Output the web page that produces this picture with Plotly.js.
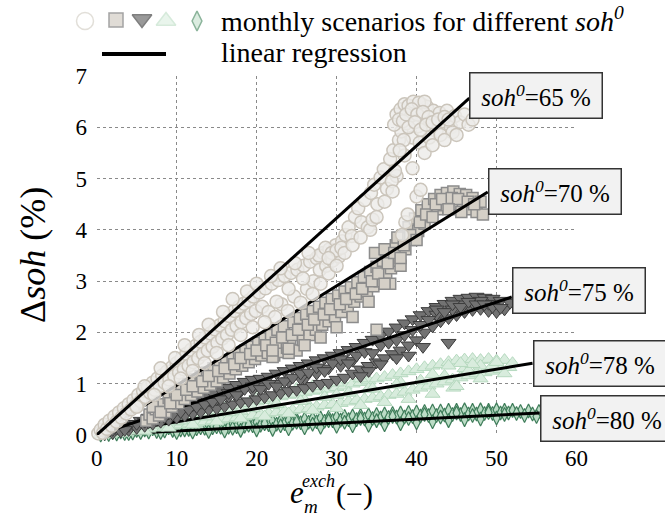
<!DOCTYPE html>
<html>
<head>
<meta charset="utf-8">
<script src="https://cdn.plot.ly/plotly-3.0.1.min.js"></script>
<style>html,body{margin:0;padding:0;background:#fff;}#chart{width:665px;height:517px;}
svg text, svg tspan{font-family:'Liberation Serif','Times New Roman',serif !important;}
</style>
</head>
<body>
<div id="chart"></div>
<script>
// ---- data ----
const soh65_x = [0.2,0.5,0.8,1.0,1.3,1.6,1.9,2.2,2.5,2.8,3.1,3.4,3.7,4.0,4.3,4.6,4.9,5.2,5.5,5.8,6.1,6.4,6.7,7.0,7.3,7.6,7.9,8.2,8.5,8.8,9.1,9.4,9.7,10.0,10.3,10.6,10.9,11.2,11.5,11.8,12.1,12.4,12.7,13.0,13.3,13.6,13.9,14.2,14.5,14.8,15.1,15.4,15.7,16.0,16.3,16.6,16.9,17.2,17.5,17.8,18.1,18.4,18.7,19.0,19.3,19.6,19.9,20.3,20.7,21.1,21.5,21.9,22.3,22.7,23.1,23.5,23.9,24.3,24.7,25.1,25.5,25.9,26.3,26.7,27.1,27.5,27.9,28.3,28.7,29.1,29.5,29.9,30.3,30.7,31.1,31.5,31.9,32.3,32.7,33.1,33.5,33.9,34.3,34.7,35.1,35.5,35.9,36.3,36.7,37.1,37.5,37.8,38.1,38.5,38.8,39.2,39.5,39.9,40.2,40.6,40.9,41.3,41.7,42.1,42.5,42.9,43.3,43.8,44.3,44.8,45.4,46.0,34.2,34.5,38.2,38.6,38.9,40.0,40.5,36.9,37.3,40.4,41.6,43.0,44.5,37.5,38.0,38.5,39.0,39.6,40.3,41.0,37.2,37.8,38.3,27.8,28.6,29.4,30.0,30.6,29.0,
  5.0,6.0,7.2,8.0,9.0,9.8,10.5,11.0,12.0,12.8,13.5,14.0,15.0,15.8,16.5,17.0,18.0,18.8,19.5,20.0,21.0,21.8,22.5,23.0,24.0,24.8,25.8,26.5,27.0,28.0,29.0,30.0,31.0,32.0,33.0,35.0,36.0,37.0,39.5,41.0,42.0,43.5,45.0,46.5,47.0,
  38.7,39.4,40.1,40.8,41.5,39.0,39.8,40.5,41.2,42.0,42.7,43.5,44.0,38.4,37.9];
const soh65_y = [0.03,0.10,0.04,0.20,0.12,0.28,0.18,0.36,0.26,0.44,0.34,0.52,0.42,0.60,0.50,0.68,0.58,0.78,0.66,0.86,0.74,0.94,0.82,1.02,0.88,1.10,0.95,1.16,1.02,1.24,1.08,1.32,1.15,1.40,1.22,1.48,1.28,1.58,1.35,1.66,1.42,1.74,1.50,1.82,1.58,1.90,1.65,1.98,1.72,2.06,1.80,2.14,1.88,2.22,1.95,2.32,2.05,2.42,2.12,2.50,2.20,2.56,2.28,2.62,2.36,2.70,2.42,2.78,2.50,2.86,2.40,2.95,2.30,3.02,2.55,3.10,2.42,3.16,2.70,3.22,2.58,3.30,2.85,3.38,3.00,3.45,3.22,3.55,3.30,3.62,3.40,3.70,3.48,3.78,3.90,4.05,3.88,4.25,4.42,4.15,4.58,4.05,4.72,4.88,4.50,5.02,5.18,4.80,5.38,5.55,5.05,5.75,5.92,5.45,6.08,6.22,5.80,6.35,6.02,6.45,6.18,6.40,6.05,6.32,5.92,6.28,6.12,6.32,6.00,6.22,6.10,6.25,4.00,4.20,3.90,4.15,4.30,4.65,4.78,4.95,5.15,5.70,5.80,5.85,5.90,6.25,6.35,6.45,6.42,6.50,6.48,6.50,6.05,6.15,6.12,3.50,3.65,3.55,3.60,3.65,3.45,
  0.55,0.95,0.78,1.30,0.95,1.50,1.10,1.75,1.25,1.95,1.40,2.15,1.60,2.40,1.75,2.65,1.95,2.80,2.10,2.95,2.20,3.10,2.60,3.25,2.85,3.35,3.05,3.55,2.75,2.95,3.15,3.30,3.55,3.70,3.85,4.25,4.55,4.75,5.20,5.50,5.65,5.75,5.85,6.05,6.15,
  6.25,6.35,6.25,6.30,6.20,6.00,6.10,5.95,6.05,6.10,6.15,6.20,6.15,5.75,5.55];

const soh70_x = [6.2,6.6,7.0,7.4,7.8,8.2,8.6,9.0,9.4,9.8,10.2,10.6,11.0,11.4,11.8,12.2,12.6,13.0,13.4,13.8,14.2,14.6,15.0,15.4,15.8,16.2,16.6,17.0,17.4,17.8,18.2,18.6,19.0,19.4,19.8,20.2,20.6,21.0,21.4,21.8,22.2,22.6,23.0,23.4,23.8,24.2,24.6,25.0,25.4,25.8,26.2,26.6,27.0,27.4,27.8,28.2,28.6,29.0,29.4,29.8,30.2,30.6,31.0,31.4,31.8,32.2,32.6,33.0,33.4,33.8,34.2,34.6,35.0,35.4,35.8,36.2,36.6,37.0,37.4,37.8,38.2,38.6,39.0,39.4,39.8,40.2,40.6,41.0,41.4,41.8,42.2,42.6,43.0,43.4,43.8,44.2,44.6,45.0,45.4,45.8,46.2,46.6,47.0,47.5,48.0,48.3,35.0,36.7,22.0,24.0,34.8,36.0,37.6,36.8,37.2,38.0,
  7.0,8.0,9.2,10.0,11.2,12.0,13.2,14.0,15.2,16.0,17.2,18.0,19.2,20.0,21.2,22.4,23.2,24.4,25.2,26.4,27.2,28.4,29.2,30.4,31.2,32.4,33.2,34.4,35.2,36.4,37.2,38.4,39.2,40.4,41.2,42.4,43.2,44.4,45.2,46.4,47.2,44.0,45.6,42.0,40.0,38.0,36.0,34.0,32.0,30.0,28.0,26.0,24.0,22.0];
const soh70_y = [0.28,0.40,0.32,0.50,0.38,0.60,0.45,0.72,0.55,0.85,0.62,0.92,0.70,1.00,0.78,1.08,0.85,1.15,0.92,1.22,0.98,1.30,1.05,1.36,1.12,1.42,1.20,1.50,1.28,1.58,1.35,1.65,1.42,1.72,1.48,1.80,1.55,1.88,1.60,1.95,1.55,2.05,1.62,2.12,1.70,1.78,2.20,1.65,2.28,1.85,2.35,1.95,2.42,2.05,2.50,2.15,2.58,2.22,2.65,2.30,2.72,2.40,2.80,2.50,2.88,2.60,2.98,2.70,3.08,2.80,3.18,2.90,3.28,3.00,3.40,3.15,3.55,3.30,3.70,3.50,3.88,3.62,4.05,3.80,4.22,3.98,4.38,4.12,4.50,4.28,4.60,4.40,4.68,4.48,4.72,4.52,4.75,4.50,4.70,4.45,4.68,4.40,4.62,4.35,4.55,4.30,2.05,2.95,1.52,1.60,3.55,3.62,3.85,3.25,3.40,3.30,
  0.55,0.45,0.62,0.78,0.88,0.95,1.05,1.15,1.25,1.30,1.38,1.50,1.58,1.65,1.75,1.80,1.90,1.95,2.05,2.15,2.25,2.35,2.45,2.55,2.65,2.75,2.85,3.00,3.15,3.35,3.55,3.70,3.90,4.15,4.30,4.50,4.60,4.62,4.60,4.55,4.50,4.40,4.35,4.25,3.80,3.45,2.95,2.60,2.30,2.10,1.90,1.75,1.68,1.65];

const soh75_x = [1.0,1.5,2.0,2.5,3.0,3.5,4.0,4.5,5.0,5.5,6.0,6.5,7.0,7.5,8.0,8.5,9.0,9.5,10.0,10.5,11.0,11.5,12.0,12.5,13.0,13.5,14.0,14.5,15.0,15.5,16.0,16.5,17.0,17.5,18.0,18.5,19.0,19.5,20.0,20.5,21.0,21.5,22.0,22.5,23.0,23.5,24.0,24.5,25.0,25.5,26.0,26.5,27.0,27.5,28.0,28.5,29.0,29.5,30.0,30.5,31.0,31.5,32.0,32.5,33.0,33.5,34.0,34.5,35.0,35.5,36.0,36.5,37.0,37.5,38.0,38.5,39.0,39.5,40.0,40.5,41.0,41.5,42.0,42.5,43.0,43.5,44.0,44.5,45.0,45.5,46.0,46.5,47.0,47.5,48.0,48.5,49.0,49.5,50.0,50.5,51.0,51.7,37.5,39.0,40.8,44.0,35.5,34.0,33.0,26.0,24.0,21.0,18.0,15.0,12.0,9.0,6.0,4.0,43.0,45.0,47.0,49.0,46.0,48.0,44.5,42.5,29.0,30.5,32.0,27.5,25.5,22.5,19.5,16.5,
  2.0,3.5,5.0,6.5,7.5,8.5,9.5,10.5,11.5,12.5,13.5,14.5,15.5,16.5,17.5,18.5,19.5,20.5,21.5,22.5,23.5,24.5,25.5,26.5,27.5,28.5,29.5,30.5,31.5,32.5,33.5,34.5,35.5,36.5,37.5,38.5,39.5,40.5,41.5,42.5,43.5,44.5,45.5,46.5,47.5,48.5,49.5,50.5];
const soh75_y = [0.02,0.08,0.04,0.12,0.07,0.16,0.10,0.22,0.14,0.28,0.18,0.34,0.22,0.40,0.26,0.46,0.30,0.52,0.34,0.58,0.38,0.64,0.42,0.70,0.45,0.76,0.50,0.82,0.52,0.88,0.56,0.92,0.60,0.98,0.64,1.04,0.66,1.08,0.70,1.10,0.74,1.14,0.78,1.20,0.82,1.25,0.86,1.30,0.88,1.35,0.92,1.40,0.96,1.46,1.00,1.50,1.02,1.55,1.08,1.60,1.12,1.66,1.20,1.72,1.28,1.80,1.35,1.86,1.42,1.94,1.50,2.02,1.58,2.10,1.65,2.18,1.75,2.26,1.85,2.34,2.00,2.42,2.12,2.50,2.22,2.56,2.28,2.62,2.34,2.66,2.40,2.68,2.44,2.70,2.46,2.68,2.42,2.66,2.40,2.62,2.45,2.58,1.50,1.55,1.72,1.80,1.38,1.25,1.15,1.10,1.05,0.95,0.85,0.70,0.58,0.42,0.26,0.18,2.40,2.50,2.58,2.56,2.55,2.62,2.45,2.35,1.30,1.35,1.45,1.20,1.10,1.00,0.88,0.75,
  0.10,0.10,0.22,0.25,0.30,0.35,0.40,0.45,0.50,0.55,0.60,0.65,0.70,0.82,0.78,0.90,0.95,0.90,1.00,0.95,1.05,1.12,1.20,1.22,1.32,1.25,1.40,1.48,1.40,1.55,1.62,1.60,1.75,1.80,1.85,1.95,2.05,2.15,2.25,2.45,2.40,2.55,2.50,2.60,2.55,2.55,2.50,2.48];

const soh78_x = [0.5,1.0,1.5,2.0,2.5,3.0,3.5,4.0,4.5,5.0,5.5,6.0,6.5,7.0,7.5,8.0,8.5,9.0,9.5,10.0,10.5,11.0,11.5,12.0,12.5,13.0,13.5,14.0,14.5,15.0,15.5,16.0,16.5,17.0,17.5,18.0,18.5,19.0,19.5,20.0,20.5,21.0,21.5,22.0,22.5,23.0,23.5,24.0,24.5,25.0,25.5,26.0,26.5,27.0,27.5,28.0,28.5,29.0,29.5,30.0,30.5,31.0,31.5,32.0,32.5,33.0,33.5,34.0,34.5,35.0,35.5,36.0,36.5,37.0,37.5,38.0,38.5,39.0,39.5,40.0,40.5,41.0,41.5,42.0,42.5,43.0,43.5,44.0,44.5,45.0,45.5,46.0,46.5,47.0,47.5,48.0,48.5,49.0,49.5,50.0,50.5,51.0,51.6,44.6,48.0,46.0,42.0,38.0,34.0,30.0,26.0,22.0,18.0,14.0,10.0,
  1.5,3.0,4.5,6.0,7.5,9.0,10.5,12.0,13.5,15.0,16.5,18.0,19.5,21.0,22.5,24.0,25.5,27.0,28.5,30.0,31.5,33.0,34.5,36.0,37.5,39.0,40.5,42.0,43.5,45.0,46.5,48.0,49.5,51.0,47.0,45.5,44.0,50.0,52.0,23.0,25.0,20.0,27.0,30.0,33.0];
const soh78_y = [0.01,0.04,0.02,0.07,0.04,0.10,0.06,0.13,0.08,0.16,0.10,0.19,0.12,0.22,0.14,0.25,0.16,0.28,0.18,0.32,0.20,0.35,0.22,0.38,0.24,0.42,0.26,0.45,0.28,0.48,0.30,0.52,0.32,0.55,0.34,0.58,0.36,0.62,0.38,0.65,0.40,0.68,0.42,0.72,0.44,0.75,0.46,0.78,0.48,0.80,0.50,0.83,0.52,0.86,0.55,0.88,0.58,0.90,0.60,0.93,0.62,0.96,0.65,1.00,0.68,1.03,0.70,1.06,0.72,1.10,0.75,1.13,0.78,1.17,0.80,1.20,0.84,1.24,0.88,1.28,0.92,1.32,0.96,1.35,1.00,1.38,1.04,1.42,1.08,1.45,1.12,1.47,1.16,1.48,1.20,1.46,1.22,1.48,1.25,1.45,1.28,1.46,1.32,0.92,1.35,1.30,1.18,1.02,0.90,0.78,0.68,0.58,0.47,0.36,0.26,
  0.08,0.04,0.12,0.08,0.20,0.14,0.28,0.20,0.36,0.26,0.44,0.32,0.52,0.36,0.60,0.42,0.66,0.48,0.74,0.52,0.82,0.58,0.90,0.64,0.98,0.70,1.06,0.80,1.15,0.95,1.25,1.10,1.35,1.20,1.38,1.40,1.35,1.42,1.40,0.85,0.90,0.78,0.95,1.02,1.10];

const soh80_x = [0.5,1.0,1.5,2.0,2.5,3.0,3.5,4.0,4.5,5.0,5.5,6.0,6.5,7.0,7.5,8.0,8.5,9.0,9.5,10.0,10.5,11.0,11.5,12.0,12.5,13.0,13.5,14.0,14.5,15.0,15.5,16.0,16.5,17.0,17.5,18.0,18.5,19.0,19.5,20.0,20.5,21.0,21.5,22.0,22.5,23.0,23.5,24.0,24.5,25.0,25.5,26.0,26.5,27.0,27.5,28.0,28.5,29.0,29.5,30.0,30.5,31.0,31.5,32.0,32.5,33.0,33.5,34.0,34.5,35.0,35.5,36.0,36.5,37.0,37.5,38.0,38.5,39.0,39.5,40.0,40.5,41.0,41.5,42.0,42.5,43.0,43.5,44.0,44.5,45.0,45.5,46.0,46.5,47.0,47.5,48.0,48.5,49.0,49.5,50.0,50.5,51.0,51.5,52.0,53.0,54.0,55.3,10,14,18,22,26,30,34,38,42,46,50,12,16,20,24,28,32,36,40,44,48,
  2,4,6,8,11,13,15,17,19,21,23,25,27,29,31,33,35,37,39,41,43,45,47,49,51,52.5,53.5,54.5,55];
const soh80_y = [0.00,0.03,0.01,0.05,0.02,0.06,0.03,0.08,0.04,0.09,0.05,0.10,0.06,0.12,0.07,0.13,0.08,0.14,0.09,0.15,0.10,0.16,0.11,0.17,0.12,0.18,0.13,0.19,0.14,0.20,0.15,0.21,0.15,0.22,0.16,0.23,0.17,0.24,0.18,0.25,0.19,0.26,0.20,0.27,0.21,0.28,0.22,0.29,0.23,0.30,0.24,0.31,0.25,0.32,0.26,0.33,0.27,0.34,0.28,0.35,0.29,0.36,0.30,0.37,0.30,0.38,0.31,0.39,0.32,0.40,0.33,0.41,0.34,0.42,0.35,0.43,0.35,0.44,0.36,0.45,0.37,0.46,0.38,0.47,0.38,0.47,0.39,0.48,0.40,0.48,0.40,0.49,0.41,0.48,0.41,0.49,0.42,0.48,0.42,0.49,0.43,0.48,0.43,0.48,0.46,0.47,0.46,0.05,0.07,0.09,0.11,0.14,0.17,0.19,0.22,0.26,0.30,0.33,0.06,0.08,0.10,0.12,0.15,0.18,0.20,0.24,0.28,0.31,
  0.08,0.03,0.12,0.05,0.10,0.14,0.16,0.13,0.19,0.22,0.18,0.25,0.21,0.28,0.25,0.32,0.28,0.36,0.32,0.40,0.35,0.43,0.38,0.44,0.40,0.42,0.38,0.41,0.36];

// linear regression end points (start at origin)
const regNames = ['65','70','75','78','80'];
const regEndX = [46.6, 48.9, 51.9, 54.5, 55.4];
const regEndY = [6.57, 4.74, 2.69, 1.40, 0.43];
const labelShift = [3, 0, 7, 0, -6];

// ---- styling ----
const W = 665, H = 517;
const px = v => v / W, py = v => 1 - v / H;
const SERIF = 'Liberation Serif';

const styles = {
  '65': {symbol:'circle', size:13, color:'rgba(236,235,232,0.8)', line:{color:'#cbc5bb', width:1.5}},
  '70': {symbol:'square', size:11, color:'#d5d0c7', line:{color:'#8c8c8c', width:1.5}},
  '75': {symbol:'triangle-down', size:13, color:'#727272', line:{color:'#3c3c3c', width:1}},
  '78': {symbol:'triangle-up', size:13, color:'#d8ecdd', line:{color:'#b6d9bf', width:1}},
  '80': {symbol:'diamond-tall', size:10, color:'#bcdcc6', line:{color:'#3f7d5a', width:1.2}}
};
const seriesData = {
  '65': [soh65_x, soh65_y], '70': [soh70_x, soh70_y], '75': [soh75_x, soh75_y],
  '78': [soh78_x, soh78_y], '80': [soh80_x, soh80_y]
};

const traces = [];
['80','78','75','70','65'].forEach(k => {
  const i = regNames.indexOf(k);
  traces.push({type:'scatter', mode:'markers', x:seriesData[k][0], y:seriesData[k][1],
    marker:styles[k], cliponaxis:false, showlegend:false, hoverinfo:'skip'});
  traces.push({type:'scatter', mode:'lines', x:[0, regEndX[i]], y:[0, regEndY[i]],
    line:{color:'#000', width:3}, cliponaxis:false, showlegend:false, hoverinfo:'skip'});
});

// legend glyphs (on a hidden helper axis in pixel units)
traces.push({type:'scatter', mode:'markers', xaxis:'x2', yaxis:'y2',
  x:[85,116,142,166,197], y:[21,20,19,21,21],
  marker:{symbol:['circle','square','triangle-down','triangle-up','diamond-tall'],
    size:[17,14,17,17,14],
    color:['#ffffff','#d3cec6','#6e6e6e','#e1f1e5','#cde5d4'],
    line:{color:['#d6d2c9','#7d7d7d','#4a4a4a','#c5e2cc','#5b9571'], width:1.5}},
  cliponaxis:false, showlegend:false, hoverinfo:'skip'});
traces.push({type:'scatter', mode:'lines', xaxis:'x2', yaxis:'y2',
  x:[102,166], y:[54,54], line:{color:'#000', width:4}, cliponaxis:false, showlegend:false, hoverinfo:'skip'});

const annotations = [];
regNames.forEach((k, i) => {
  annotations.push({xref:'x', yref:'y', x:regEndX[i], y:regEndY[i], xanchor:'left', yanchor:'middle',
    yshift:labelShift[i], showarrow:false,
    text:'<i>soh</i><sup><i>0</i></sup>=' + k + ' %',
    font:{family:SERIF, size:25, color:'#000'},
    bgcolor:'#f2f2f2', bordercolor:'#333', borderwidth:1.5, borderpad:8, width:115, height:28});
});
annotations.push({xref:'paper', yref:'paper', x:px(33), y:py(255), xanchor:'center', yanchor:'middle',
  textangle:-90, showarrow:false, text:'Δ<i>soh</i> (%)', font:{family:SERIF, size:36, color:'#000'}});
annotations.push({xref:'paper', yref:'paper', x:px(297), y:py(492), xanchor:'center', yanchor:'middle',
  showarrow:false, text:'<i>e</i>', font:{family:SERIF, size:31, color:'#000'}});
annotations.push({xref:'paper', yref:'paper', x:px(318), y:py(481), xanchor:'center', yanchor:'middle',
  showarrow:false, text:'<i>exch</i>', font:{family:SERIF, size:18, color:'#000'}});
annotations.push({xref:'paper', yref:'paper', x:px(311), y:py(506), xanchor:'center', yanchor:'middle',
  showarrow:false, text:'<i>m</i>', font:{family:SERIF, size:19, color:'#000'}});
annotations.push({xref:'paper', yref:'paper', x:px(354), y:py(494), xanchor:'center', yanchor:'middle',
  showarrow:false, text:'(−)', font:{family:SERIF, size:30, color:'#000'}});
annotations.push({xref:'paper', yref:'paper', x:px(219), y:py(20), xanchor:'left', yanchor:'middle',
  showarrow:false, text:'monthly scenarios for different <i>soh</i><sup><i>0</i></sup>', font:{family:SERIF, size:28, color:'#000'}});
annotations.push({xref:'paper', yref:'paper', x:px(219), y:py(53), xanchor:'left', yanchor:'middle',
  showarrow:false, text:'linear regression', font:{family:SERIF, size:28, color:'#000'}});

const layout = {
  width:W, height:H, margin:{l:0, r:0, t:0, b:0}, showlegend:false,
  xaxis:{domain:[96.7/W, 576.5/W], range:[0,60], dtick:10, tickfont:{family:SERIF, size:23, color:'#000'},
    gridcolor:'#8a8a8a', griddash:'dot', zeroline:false, ticks:'outside', ticklen:2, tickcolor:'rgba(0,0,0,0)'},
  yaxis:{domain:[(H-435)/H, (H-76)/H], range:[0,7], dtick:1, tickfont:{family:SERIF, size:23, color:'#000'},
    gridcolor:'#8a8a8a', griddash:'dot', zeroline:false, ticks:'outside', ticklen:4, tickcolor:'rgba(0,0,0,0)'},
  xaxis2:{domain:[0,1], anchor:'y2', range:[0,W], visible:false},
  yaxis2:{domain:[1-70/H,1], anchor:'x2', range:[70,0], visible:false},
  annotations:annotations
};

Plotly.newPlot('chart', traces, layout, {staticPlot:true, displayModeBar:false});
</script>
</body>
</html>
